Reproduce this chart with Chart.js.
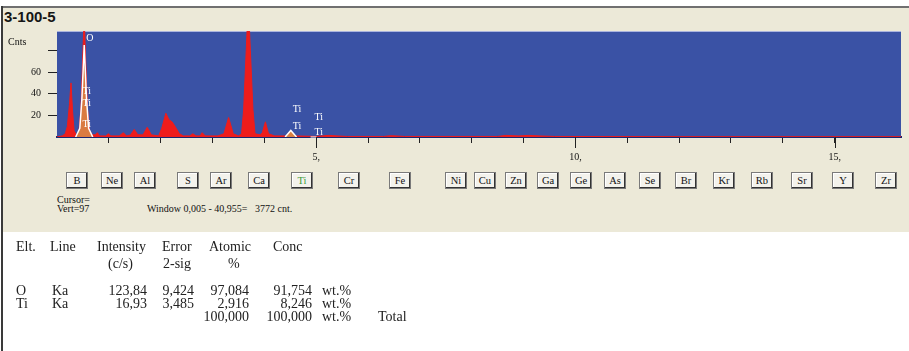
<!DOCTYPE html>
<html>
<head>
<meta charset="utf-8">
<script src="https://cdn.jsdelivr.net/npm/chart.js@4/dist/chart.umd.min.js"></script>
<style>
html, body { margin: 0; padding: 0; background: #fff; }
#page { position: relative; width: 909px; height: 351px; overflow: hidden; background: #fff; font-family: "Liberation Serif", serif; }
#panel { position: absolute; left: 3px; top: 8px; width: 906px; height: 224px; background: #ECE9D8; }
#topline { position: absolute; left: 2px; top: 6px; width: 907px; height: 2px; background: #707070; }
#leftline { position: absolute; left: 1px; top: 6px; width: 2px; height: 345px; background: #3a3a3a; }
#title { position: absolute; left: 4px; top: 8px; font: bold 15px "Liberation Sans", Arial, sans-serif; color: #151515; }
#spec { position: absolute; left: 0; top: 0; }
.small { position: absolute; font-size: 10px; line-height: 10px; color: #111; white-space: nowrap; }
.btn { position: absolute; top: 172px; width: 22px; height: 17px; box-sizing: border-box; background: #f3f2ec;
       border: 1px solid #7a7a7a; box-shadow: inset -1px -1px #333, inset 1px 1px #fff;
       font-size: 10.5px; line-height: 15px; text-align: center; color: #111; }
.t { position: absolute; font-size: 14px; line-height: 14px; color: #222; white-space: nowrap; }
</style>
</head>
<body>
<div id="page">
  <div id="panel"></div>
  <div id="topline"></div>
  <div id="leftline"></div>
  <div id="title">3-100-5</div>
  <canvas id="spec" width="909" height="170"></canvas>
  <div class="small" style="left:8px;top:37px;">Cnts</div>
  <div class="small" style="left:57px;top:195px;">Cursor=</div>
  <div class="small" style="left:57px;top:204px;">Vert=97</div>
  <div class="small" style="left:147px;top:204px;">Window 0,005 - 40,955=&nbsp;&nbsp; 3772 cnt.</div>
  <div id="buttons"></div>
  <div id="table"></div>
</div>
<script>
// spectrum (keV vs counts)
const spectrumKeV = [0.00, 0.10, 0.16, 0.20, 0.24, 0.27, 0.30, 0.33, 0.37, 0.42, 0.46, 0.50, 0.525, 0.55, 0.59, 0.63, 0.68,
  0.74, 0.78, 0.82, 0.94, 0.99, 1.04, 1.20, 1.28, 1.34, 1.42, 1.49, 1.56, 1.66, 1.74, 1.82, 1.96, 2.02, 2.10, 2.16, 2.22,
  2.30, 2.36, 2.44, 2.56, 2.62, 2.68, 2.76, 2.80, 2.86, 3.10, 3.22, 3.31, 3.40, 3.50, 3.56, 3.60, 3.65, 3.69, 3.73, 3.78,
  3.82, 3.92, 3.96, 4.02, 4.08, 4.20, 4.42, 4.51, 4.60, 5.00, 5.25, 5.40, 5.60, 6.30, 6.45, 6.70, 8.50, 8.65, 8.90, 9.10,
  9.30, 9.60, 12.0, 16.3];
const spectrumCnts = [0, 1, 3, 10, 30, 50, 24, 6, 2, 4, 25, 80, 110, 75, 25, 6, 2,
  2, 4, 1, 1, 3, 1, 1, 4, 1, 2, 7, 2, 2, 9, 2, 1, 8, 22, 16, 14,
  8, 3, 1, 1, 3, 1, 1, 4, 1, 1, 3, 18, 3, 1, 3, 25, 80, 125, 80, 25,
  3, 2, 4, 14, 3, 1, 1, 6, 1, 0.5, 1.5, 1, 0.5, 0.5, 1.2, 0.5, 0.5, 1.5, 1, 1.5,
  1, 0.5, 0.3, 0.3];

// fitted peaks (orange with white outline)
const oFitKeV = [0.36, 0.44, 0.48, 0.525, 0.57, 0.61, 0.69];
const oFitCnts = [0, 8, 35, 85, 35, 8, 0];
const tiFitKeV = [4.40, 4.51, 4.62];
const tiFitCnts = [0, 6, 0];

// KLM marker labels: element, energy, label heights (counts)
const markerEls = ['O', 'Ti', 'Ti', 'Ti'];
const markerKeV = [0.525, 0.452, 4.51, 4.93];
const markerCnts = [[89], [40, 29, 9], [23, 7], [15.5, 1.5]];

// periodic table buttons at their line energies
const btnEls = ['B','Ne','Al','S','Ar','Ca','Ti','Cr','Fe','Ni','Cu','Zn','Ga','Ge','As','Se','Br','Kr','Rb','Sr','Y','Zr'];
const btnKeV = [0.183, 0.849, 1.486, 2.307, 2.957, 3.691, 4.510, 5.414, 6.403, 7.477, 8.046, 8.637, 9.251, 9.886,
  10.543, 11.224, 11.924, 12.649, 13.395, 14.165, 14.958, 15.775];

// quant table
const tableHead1 = ['Elt.', 'Line', 'Intensity', 'Error', 'Atomic', 'Conc'];
const tableHead2 = ['', '', '(c/s)', '2-sig', '%', ''];
const rowO = ['O', 'Ka', '123,84', '9,424', '97,084', '91,754', 'wt.%', ''];
const rowTi = ['Ti', 'Ka', '16,93', '3,485', '2,916', '8,246', 'wt.%', ''];
const rowTotal = ['', '', '', '', '100,000', '100,000', 'wt.%', 'Total'];

const toXY = (xs, ys) => xs.map((x, i) => ({ x: x, y: ys[i] }));

// table layout
const tbl = document.getElementById('table');
function put(text, x, baseline, align) {
  if (!text) return;
  const s = document.createElement('div');
  s.className = 't';
  s.textContent = text;
  s.style.top = (baseline - 12) + 'px';
  if (align === 'r') s.style.right = (909 - x) + 'px'; else s.style.left = x + 'px';
  tbl.appendChild(s);
}
const headX = [16, 50, 97, 162, 209, 273];
const head2X = [0, 0, 108, 163, 228, 0];
tableHead1.forEach((h, i) => put(h, headX[i], 252));
tableHead2.forEach((h, i) => put(h, head2X[i], 269));
const colX = [16, 52, 147, 194, 249, 312, 322, 378];
const colAlign = ['l', 'l', 'r', 'r', 'r', 'r', 'l', 'l'];
[[rowO, 296], [rowTi, 309], [rowTotal, 322]].forEach(([row, y]) =>
  row.forEach((v, i) => put(v, colX[i], y, colAlign[i])));

// buttons
const btnBox = document.getElementById('buttons');
const btnDivs = btnEls.map(el => {
  const b = document.createElement('div');
  b.className = 'btn';
  b.textContent = el;
  if (el === 'Ti') b.style.color = '#3c9c3c';
  btnBox.appendChild(b);
  return b;
});

const BLUE = '#3A52A5';

const specPlugin = {
  id: 'specPlugin',
  beforeDraw(chart) {
    const { ctx, chartArea: a } = chart;
    ctx.save();
    ctx.fillStyle = BLUE;
    ctx.fillRect(a.left, a.top, a.right - a.left, a.bottom - a.top);
    ctx.fillStyle = '#aab4de';
    ctx.fillRect(a.left, a.top, a.right - a.left, 1);
    ctx.restore();
  },
  afterLayout(chart) {
    const xs = chart.scales.x;
    btnDivs.forEach((b, i) => { b.style.left = Math.round(xs.getPixelForValue(btnKeV[i])) + 'px'; });
  },
  afterDatasetsDraw(chart) {
    const { ctx, scales: { x, y } } = chart;
    ctx.save();
    ctx.fillStyle = '#ffffff';
    ctx.font = '10px "Liberation Serif", serif';
    ctx.textBaseline = 'alphabetic';
    markerEls.forEach((el, i) => {
      const px = x.getPixelForValue(markerKeV[i]);
      markerCnts[i].forEach(c => {
        ctx.fillText(el, px + 2, y.getPixelForValue(c));
      });
    });
    // short marker dash under lowest Ti Kb label
    const pb = x.getPixelForValue(4.93), yb = y.getPixelForValue(0.5);
    ctx.fillRect(pb - 2, yb, 6, 1);
    ctx.restore();
  },
  afterDraw(chart) {
    const { ctx, scales: { x }, chartArea: a } = chart;
    ctx.save();
    ctx.strokeStyle = '#222';
    ctx.lineWidth = 1;
    [5, 10, 15].forEach(v => {
      const px = Math.round(x.getPixelForValue(v)) + 0.5;
      ctx.beginPath();
      ctx.moveTo(px, a.bottom);
      ctx.lineTo(px, a.bottom + 11);
      ctx.stroke();
    });
    ctx.restore();
  }
};

const hideTick = (ok) => (c) => (c.tick && ok(c.tick.value)) ? '#222' : 'rgba(0,0,0,0)';

new Chart(document.getElementById('spec'), {
  type: 'line',
  data: {
    datasets: [
      { label: 'O fit', data: toXY(oFitKeV, oFitCnts), order: 0, borderColor: '#ffffff', borderWidth: 1.5,
        backgroundColor: 'rgba(214,140,72,0.85)', fill: 'origin', pointRadius: 0, tension: 0 },
      { label: 'Ti fit', data: toXY(tiFitKeV, tiFitCnts), order: 0, borderColor: '#ffffff', borderWidth: 1.5,
        backgroundColor: 'rgba(214,140,72,0.9)', fill: 'origin', pointRadius: 0, tension: 0 },
      { label: 'Spectrum', data: toXY(spectrumKeV, spectrumCnts), order: 1, borderColor: '#ee1c1c', borderWidth: 1,
        backgroundColor: '#ee1c1c', fill: 'origin', pointRadius: 0, tension: 0 }
    ]
  },
  options: {
    responsive: false,
    animation: false,
    layout: { padding: { top: 31, left: 0, right: 0, bottom: 0 } },
    plugins: { legend: { display: false }, tooltip: { enabled: false } },
    scales: {
      x: {
        type: 'linear', min: 0, max: 16.28,
        afterFit: s => { s.height = 33; },
        border: { display: true, color: '#1a2670', width: 2 },
        grid: { drawOnChartArea: false, drawTicks: true, tickLength: 6,
                color: hideTick(v => Number.isInteger(v) && v > 0), tickColor: hideTick(v => Number.isInteger(v) && v > 0) },
        ticks: { stepSize: 1, autoSkip: false, maxRotation: 0, padding: 8, color: '#111',
                 font: { family: '"Liberation Serif", serif', size: 10 },
                 callback: v => (v > 0 && v % 5 === 0) ? v + ',' : '' }
      },
      y: {
        min: 0, max: 98,
        afterFit: s => { s.width = 57; },
        border: { display: false },
        grid: { drawOnChartArea: false, drawTicks: true, tickLength: 9,
                color: hideTick(v => v % 10 === 0 && v > 0), tickColor: hideTick(v => v % 10 === 0 && v > 0) },
        ticks: { stepSize: 10, padding: 7, color: '#111',
                 font: { family: '"Liberation Serif", serif', size: 10 },
                 callback: v => (v === 20 || v === 40 || v === 60) ? String(v) : '' }
      }
    }
  },
  plugins: [specPlugin]
});
</script>
</body>
</html>
